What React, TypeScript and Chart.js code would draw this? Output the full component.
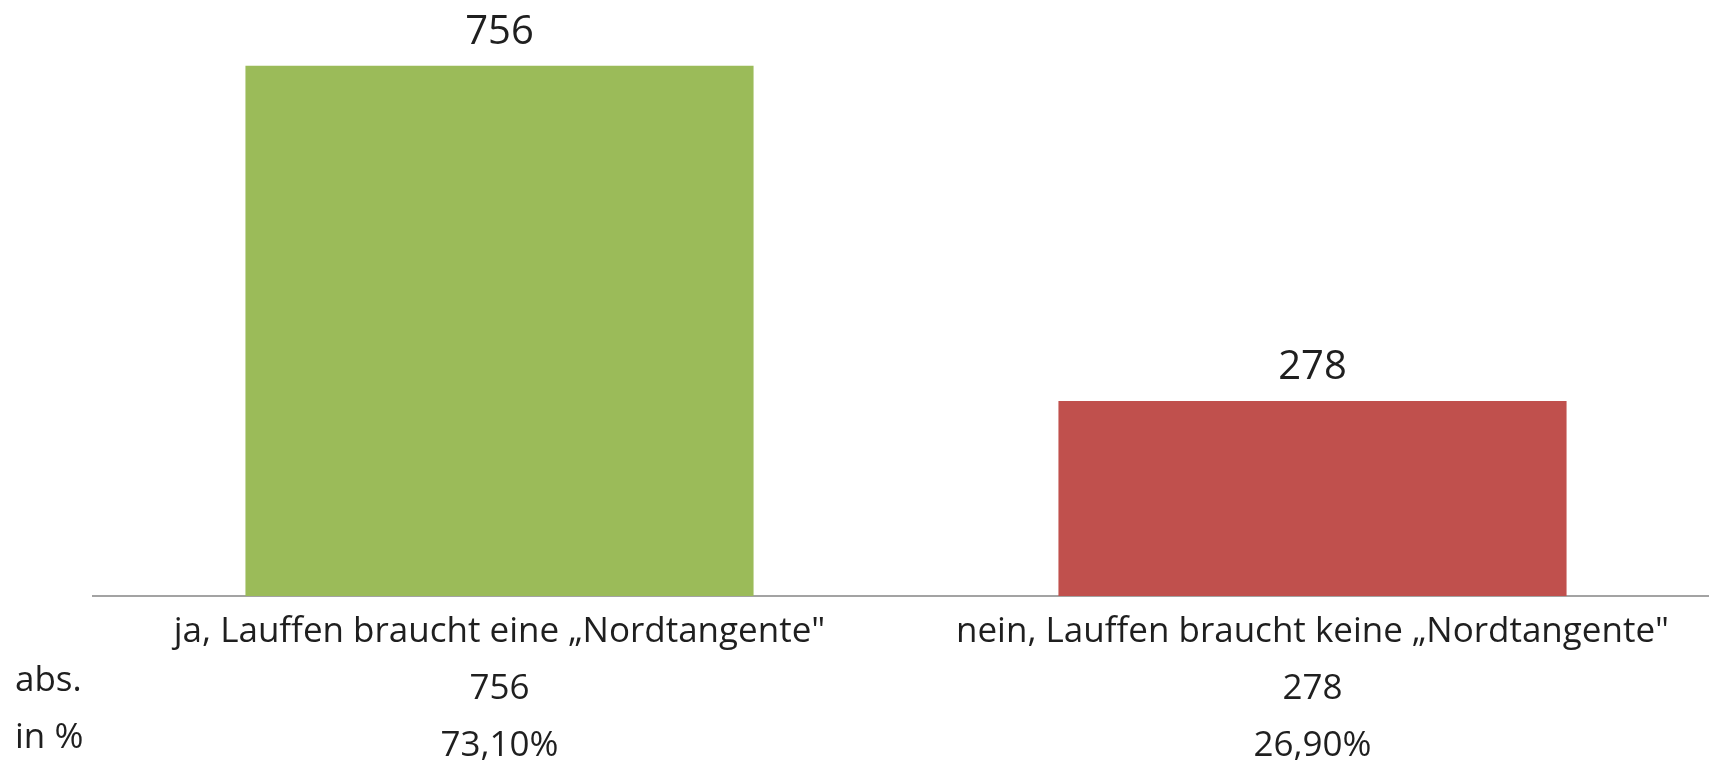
import React, { useEffect, useRef } from "react";
import { Chart, registerables } from "chart.js";

Chart.register(...registerables);

const categories = ['ja, Lauffen braucht eine „Nordtangente"', 'nein, Lauffen braucht keine „Nordtangente"'];
const counts = [756, 278];
const percents = ["73,10%", "26,90%"];
const rowLabels = ["abs.", "in %"];
const barColors = ["#9bbb59", "#c0504d"];

const FONT = "'Open Sans', 'Noto Sans', sans-serif";
const TICK_SIZE = 35;
const LINE_H = 57;
const TICK_PAD = 0;

export default function App() {
  const ref = useRef<HTMLCanvasElement | null>(null);

  useEffect(() => {
    if (!ref.current) return;
    const labels = categories.map((c, i) => [c, String(counts[i]), percents[i]]);

    const valueLabels = {
      id: "valueLabels",
      afterDatasetsDraw(chart: any) {
        const ctx = chart.ctx;
        const meta = chart.getDatasetMeta(0);
        ctx.save();
        ctx.font = `40px ${FONT}`;
        ctx.fillStyle = "#1f1f1f";
        ctx.textAlign = "center";
        ctx.textBaseline = "middle";
        meta.data.forEach((bar: any, i: number) => {
          ctx.fillText(String(counts[i]), bar.x, bar.y - 33);
        });
        ctx.restore();
      },
    };

    const rowTitles = {
      id: "rowTitles",
      afterDraw(chart: any) {
        const ctx = chart.ctx;
        const xs = chart.scales.x;
        ctx.save();
        ctx.font = `${TICK_SIZE}px ${FONT}`;
        ctx.fillStyle = "#1f1f1f";
        ctx.textAlign = "left";
        ctx.textBaseline = "middle";
        rowLabels.forEach((t, i) => {
          const y = xs.top + TICK_PAD + LINE_H * (i + 1.5);
          ctx.fillText(t, 15, y);
        });
        ctx.restore();
      },
    };

    const chart = new Chart(ref.current, {
      type: "bar",
      data: {
        labels,
        datasets: [
          {
            data: counts,
            backgroundColor: barColors,
            borderWidth: 0,
            categoryPercentage: 1,
            barPercentage: 0.625,
          },
        ],
      },
      options: {
        responsive: false,
        animation: false,
        layout: { padding: { left: 93, top: 35, right: 0, bottom: 0 } },
        plugins: {
          legend: { display: false },
          tooltip: { enabled: false },
          title: { display: false },
        },
        scales: {
          y: { display: false, min: 0, max: 800 },
          x: {
            grid: { display: false },
            border: { display: true, color: "#a3a3a3", width: 2 },
            ticks: {
              color: "#1f1f1f",
              font: { family: FONT, size: TICK_SIZE, lineHeight: LINE_H / TICK_SIZE },
              padding: TICK_PAD,
              maxRotation: 0,
              minRotation: 0,
              autoSkip: false,
            },
            afterFit(scale: any) {
              scale.height = 166;
            },
          },
        },
      },
      plugins: [valueLabels, rowTitles],
    });
    return () => chart.destroy();
  }, []);

  return (
    <div style={{ position: "absolute", left: 0, top: 0, width: 1709, height: 762, overflow: "hidden", background: "#fff" }}>
      <canvas ref={ref} width={1719} height={762} style={{ display: "block" }} />
    </div>
  );
}
